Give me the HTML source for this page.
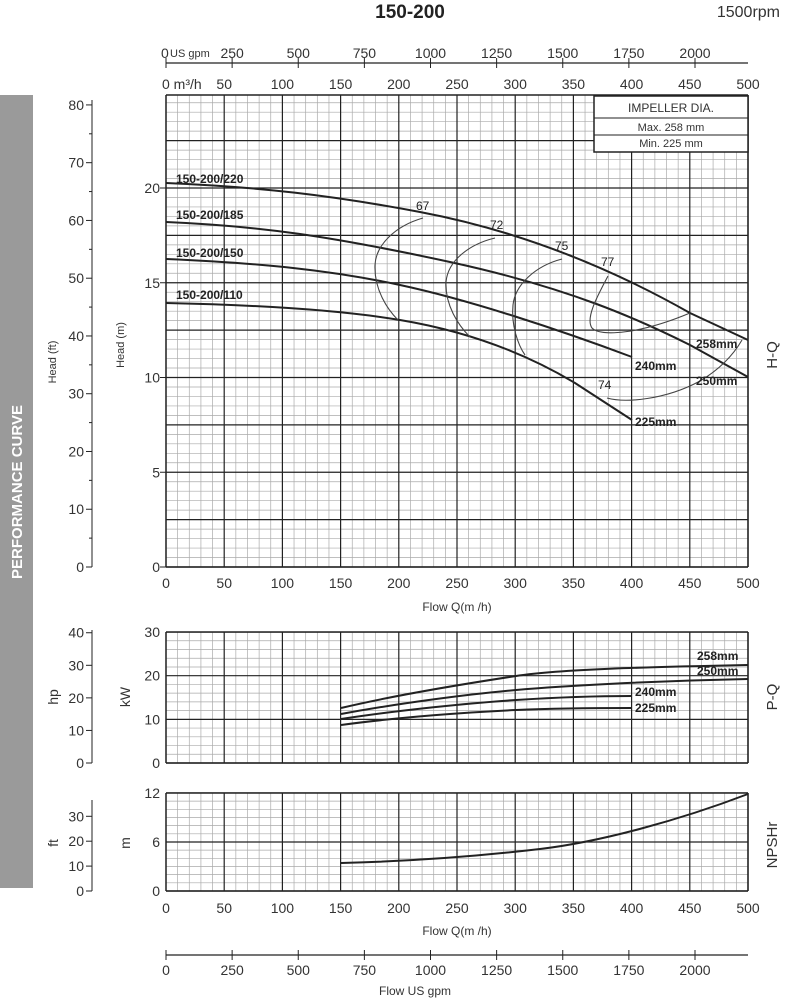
<!DOCTYPE html>
<html><head><meta charset="utf-8"><style>
body{margin:0;background:#fff}
svg{display:block;font-family:"Liberation Sans",sans-serif}
</style></head><body>
<svg id="s" width="794" height="1000" viewBox="0 0 794 1000" xmlns="http://www.w3.org/2000/svg">
<rect x="0" y="95" width="33" height="793" fill="#9a9a9a"/>
<text transform="translate(22,492) rotate(-90)" text-anchor="middle" fill="#fff" font-weight="bold" font-size="15">PERFORMANCE CURVE</text>
<text x="410" y="18" text-anchor="middle" font-weight="bold" font-size="19" fill="#222">150-200</text>
<text x="780" y="17" text-anchor="end" font-size="16" fill="#333">1500rpm</text>
<g id="g"></g>
<g fill="none" stroke="#222" stroke-width="2">
<path d="M166,183 C260,187 330,195 420,212 S600,262 690,313 L748,340"/>
<path d="M166,222 C260,226 330,236 450,262 S640,320 690,345 L748,377"/>
<path d="M166,259 C260,263 330,270 400,285 S560,330 632,357"/>
<path d="M166,303 C260,305 340,310 400,320 S520,350 575,383 L632,420"/>
<path d="M341,708 C400,694 470,683 516,676 S650,667 748,665"/>
<path d="M341,714 C400,703 470,694 516,690 S650,681 748,679"/>
<path d="M341,719 C400,710 470,703 516,700 S600,696 632,696"/>
<path d="M341,725 C400,717 470,712 516,710 S600,708 632,708"/>
<path d="M341,863 C420,861 480,856 540,849 S680,820 748,794"/>
</g>
<g fill="none" stroke="#444" stroke-width="1.1">
<path d="M423,218 C395,226 376,245 375,265 C374,290 388,310 398,320"/>
<path d="M495,238 C470,244 448,260 446,282 C445,305 458,325 470,337"/>
<path d="M562,259 C535,266 515,285 513,305 C511,325 518,345 525,355"/>
<path d="M608,276 C598,295 585,318 592,328 C600,337 640,334 690,313"/>
<path d="M607,398 C625,403 665,400 700,381 C722,368 735,352 742,340"/>
</g>
<g font-size="12" fill="#222">
<text x="416" y="210">67</text><text x="490" y="229">72</text><text x="555" y="250">75</text><text x="601" y="266">77</text><text x="598" y="389">74</text>
</g>
<g font-size="12" font-weight="bold" fill="#222">
<text x="176" y="183">150-200/220</text><text x="176" y="219">150-200/185</text><text x="176" y="257">150-200/150</text><text x="176" y="299">150-200/110</text>
<text x="696" y="348">258mm</text><text x="696" y="385">250mm</text><text x="635" y="370">240mm</text><text x="635" y="426">225mm</text>
<text x="697" y="660">258mm</text><text x="697" y="675">250mm</text><text x="635" y="696">240mm</text><text x="635" y="712">225mm</text>
</g>
<rect x="594" y="96" width="154" height="56" fill="#fff" stroke="#222" stroke-width="1.5"/>
<line x1="594" y1="118" x2="748" y2="118" stroke="#222"/><line x1="594" y1="135" x2="748" y2="135" stroke="#222"/>
<g font-size="11" fill="#333" text-anchor="middle">
<text x="671" y="112" font-size="12">IMPELLER DIA.</text>
<text x="671" y="131">Max.  258  mm</text><text x="671" y="147">Min.  225  mm</text>
</g>
<g font-size="15" fill="#333">
<text transform="translate(777,355) rotate(-90)" text-anchor="middle">H-Q</text>
<text transform="translate(777,697) rotate(-90)" text-anchor="middle">P-Q</text>
<text transform="translate(777,845) rotate(-90)" text-anchor="middle">NPSHr</text>
</g>
<g font-size="12" fill="#333">
<text transform="translate(56,362) rotate(-90)" text-anchor="middle" font-size="11">Head (ft)</text>
<text transform="translate(124,345) rotate(-90)" text-anchor="middle" font-size="11">Head (m)</text>
<text transform="translate(58,697) rotate(-90)" text-anchor="middle" font-size="14">hp</text>
<text transform="translate(130,697) rotate(-90)" text-anchor="middle" font-size="14">kW</text>
<text transform="translate(58,843) rotate(-90)" text-anchor="middle" font-size="14">ft</text>
<text transform="translate(130,843) rotate(-90)" text-anchor="middle" font-size="14">m</text>
<text x="457" y="611" text-anchor="middle">Flow  Q(m /h)</text>
<text x="457" y="935" text-anchor="middle">Flow  Q(m /h)</text>
<text x="415" y="995" text-anchor="middle">Flow  US gpm</text>
<text x="161" y="58" font-size="14">0</text><text x="170" y="57" font-size="11">US gpm</text>
<text x="162" y="89" font-size="14">0  m³/h</text>
</g>
</svg>
<script>
var g=document.getElementById('g'),h='';
function L(x1,y1,x2,y2,c,w){h+='<line x1="'+x1+'" y1="'+y1+'" x2="'+x2+'" y2="'+y2+'" stroke="'+c+'" stroke-width="'+w+'"/>';}
function T(x,y,s,a,f){h+='<text x="'+x+'" y="'+y+'" text-anchor="'+(a||'middle')+'" font-size="'+(f||14)+'" fill="#333">'+s+'</text>';}
var X0=166,XS=1.164;
function grid(top,bot,ystep,ymaj){
 for(var q=0;q<=500;q+=10){var x=X0+q*XS;if(q%50)L(x,top,x,bot,'#aaa',0.7);}
 for(var i=0;;i++){var y=bot-i*ystep;if(y<top-0.5)break;if(i%ymaj)L(X0,y,748,y,'#aaa',0.7);}
 for(var q=0;q<=500;q+=50){var x=X0+q*XS;L(x,top,x,bot,'#222',1.2);}
 for(var i=0;;i+=ymaj){var y=bot-i*ystep;if(y<top-0.5)break;L(X0,y,748,y,'#222',1.2);}
 L(X0,top,748,top,'#222',1.4);L(X0,bot,748,bot,'#222',1.4);L(748,top,748,bot,'#222',1.5);L(X0,top,X0,bot,'#222',1.4);
}
grid(95,567,9.475,5);grid(632,763,8.73,5);grid(793,891,8.17,6);
for(var q=0;q<=500;q+=50){var x=X0+q*XS;T(x,588,q);T(x,913,q);if(q>0)T(x,89,q);}
[0,5,10,15,20].forEach(function(m){var y=567-m*18.95;T(160,y+5,m,'end',14);L(160,y,166,y,'#222',1);});
L(92,100,92,567,'#222',1);
for(var f=0;f<=80;f+=5){var y=567-f*0.3048*18.95;L(f%10?89:86,y,92,y,'#222',1);if(f%10==0)T(84,y+5,f,'end',14);}
[0,10,20,30].forEach(function(k){var y=763-k*4.367;T(160,y+5,k,'end',14);});
L(92,630,92,763,'#222',1);
for(var p=0;p<=40;p+=10){var y=763-p*0.7457*4.367;L(86,y,92,y,'#222',1);T(84,y+5,p,'end',14);}
[0,6,12].forEach(function(k){var y=891-k*8.17;T(160,y+5,k,'end',14);});
L(92,800,92,891,'#222',1);
for(var f=0;f<=30;f+=10){var y=891-f*0.3048*8.17;L(86,y,92,y,'#222',1);T(84,y+5,f,'end',14);}
var GS=0.2645;
L(166,63,748,63,'#222',1.2);L(166,955,748,955,'#222',1.2);
for(var q=0;q<=2200;q+=250){var x=166+q*GS;L(x,58,x,68,'#222',1);L(x,950,x,960,'#222',1);T(x,975,q);if(q>0)T(x,58,q);}
g.innerHTML=h;
</script>
</body></html>
